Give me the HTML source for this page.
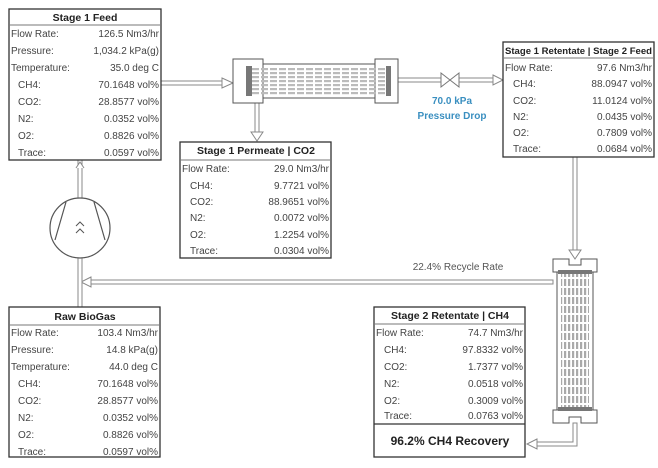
<!DOCTYPE html>
<html><head><meta charset="utf-8"><style>
html,body{margin:0;padding:0;background:#fff;}
svg{display:block;font-family:"Liberation Sans",sans-serif;}
.t{font-size:10px;fill:#444;}
.r{font-size:10px;fill:#444;text-anchor:end;}
.h{font-size:10.5px;font-weight:bold;fill:#222;text-anchor:middle;}
.box{fill:#fff;stroke:#333;stroke-width:1.3;}
.ln{stroke:#777;stroke-width:1;fill:none;}
.pipe{fill:#fff;stroke:#888;stroke-width:1;}
</style></head><body>
<svg width="658" height="468" viewBox="0 0 658 468">
<defs>
<pattern id="fib" width="9" height="4" patternUnits="userSpaceOnUse"><rect width="7" height="2.2" fill="#bbb"/></pattern>
<pattern id="fib2" width="4" height="9" patternUnits="userSpaceOnUse"><rect width="2.2" height="7" fill="#aaa"/></pattern>
</defs>

<!-- pipes -->
<rect class="pipe" x="161" y="81" width="62" height="4"/>
<path class="pipe" d="M222 78 L233 83 L222 88 Z"/>
<rect class="pipe" x="255" y="103" width="4" height="30"/>
<path class="pipe" d="M251 132 L257 141 L263 132 Z"/>
<rect class="pipe" x="398" y="78" width="43" height="4"/>
<rect class="pipe" x="458" y="78" width="36" height="4"/>
<path class="pipe" d="M493 75 L503 80 L493 85 Z"/>
<path d="M441 73 L459 87 L459 73 L441 87 Z" fill="#fff" stroke="#777"/>
<rect class="pipe" x="573" y="157" width="4" height="95"/>
<path class="pipe" d="M569 250 L575 259 L581 250 Z"/>
<rect class="pipe" x="90" y="280" width="463" height="4"/>
<path class="pipe" d="M91 277 L81 282 L91 287 Z"/>
<rect class="pipe" x="78" y="160" width="4" height="38"/>
<path class="pipe" d="M76 168 L80 162 L84 168" />
<rect class="pipe" x="78" y="258" width="4" height="50"/>
<path class="pipe" d="M573 423 L577 423 L577 446 L537 446 L537 442 L573 442 Z"/>
<path class="pipe" d="M537 439 L527 444 L537 449 Z"/>

<!-- membrane 1 -->
<path d="M233 59 H263 V64 H375 V59 H398 V103 H375 V98 H263 V103 H233 Z" fill="#fff" stroke="#555"/>
<line x1="263" y1="59" x2="263" y2="103" stroke="#555"/>
<line x1="375" y1="59" x2="375" y2="103" stroke="#555"/>
<rect x="246" y="66" width="6" height="30" fill="#777"/>
<rect x="386" y="66" width="5" height="30" fill="#777"/>
<rect x="252" y="67" width="134" height="28" fill="url(#fib)"/>

<!-- membrane 2 -->
<path d="M553 259 H569 V265 H581 V259 H597 V272 H593 V410 H597 V423 H581 V417 H569 V423 H553 V410 H557 V272 H553 Z" fill="#fff" stroke="#555"/>
<line x1="553" y1="272" x2="597" y2="272" stroke="#555"/>
<line x1="553" y1="410" x2="597" y2="410" stroke="#555"/>
<rect x="558" y="270" width="34" height="4" fill="#777"/>
<rect x="558" y="407" width="34" height="4" fill="#777"/>
<rect x="561" y="274" width="28" height="133" fill="url(#fib2)"/>

<!-- compressor -->
<circle cx="80" cy="228" r="30" fill="#fff" stroke="#555" stroke-width="1.2"/>
<path d="M66 202 L55 240 M94 202 L105 240" stroke="#555" stroke-width="1.2"/>
<path d="M76 226 L80 222 L84 226 M76 233 L80 229 L84 233" stroke="#555" fill="none"/>

<!-- Stage 1 Feed -->
<rect class="box" x="9" y="9" width="152" height="151"/>
<line class="ln" x1="9" y1="25" x2="161" y2="25"/>
<text class="h" x="85" y="21">Stage 1 Feed</text>
<g class="t"><text x="11" y="37">Flow Rate:</text><text x="11" y="54">Pressure:</text><text x="11" y="71">Temperature:</text><text x="18" y="88">CH4:</text><text x="18" y="105">CO2:</text><text x="18" y="122">N2:</text><text x="18" y="139">O2:</text><text x="18" y="156">Trace:</text></g>
<g class="r"><text x="159" y="37">126.5 Nm3/hr</text><text x="159" y="54">1,034.2 kPa(g)</text><text x="159" y="71">35.0 deg C</text><text x="159" y="88">70.1648 vol%</text><text x="159" y="105">28.8577 vol%</text><text x="159" y="122">0.0352 vol%</text><text x="159" y="139">0.8826 vol%</text><text x="159" y="156">0.0597 vol%</text></g>

<!-- Permeate -->
<rect class="box" x="180" y="142" width="151" height="116"/>
<line class="ln" x1="180" y1="160" x2="331" y2="160"/>
<text class="h" x="256" y="154">Stage 1 Permeate | CO2</text>
<g class="t"><text x="182" y="172">Flow Rate:</text><text x="190" y="189">CH4:</text><text x="190" y="205">CO2:</text><text x="190" y="221">N2:</text><text x="190" y="238">O2:</text><text x="190" y="254">Trace:</text></g>
<g class="r"><text x="329" y="172">29.0 Nm3/hr</text><text x="329" y="189">9.7721 vol%</text><text x="329" y="205">88.9651 vol%</text><text x="329" y="221">0.0072 vol%</text><text x="329" y="238">1.2254 vol%</text><text x="329" y="254">0.0304 vol%</text></g>

<!-- Retentate 1 -->
<rect class="box" x="503" y="42" width="151" height="115"/>
<line class="ln" x1="503" y1="58" x2="654" y2="58"/>
<text x="505" y="54" textLength="147" lengthAdjust="spacingAndGlyphs" style="font-size:9.5px;font-weight:bold;fill:#222">Stage 1 Retentate | Stage 2 Feed</text>
<g class="t"><text x="505" y="71">Flow Rate:</text><text x="513" y="87">CH4:</text><text x="513" y="104">CO2:</text><text x="513" y="120">N2:</text><text x="513" y="136">O2:</text><text x="513" y="152">Trace:</text></g>
<g class="r"><text x="652" y="71">97.6 Nm3/hr</text><text x="652" y="87">88.0947 vol%</text><text x="652" y="104">11.0124 vol%</text><text x="652" y="120">0.0435 vol%</text><text x="652" y="136">0.7809 vol%</text><text x="652" y="152">0.0684 vol%</text></g>

<text x="452" y="104" style="font-size:10px;font-weight:bold;fill:#3a8fc0;text-anchor:middle">70.0 kPa</text>
<text x="452" y="119" style="font-size:10px;font-weight:bold;fill:#3a8fc0;text-anchor:middle">Pressure Drop</text>
<text x="458" y="270" style="font-size:10px;fill:#555;text-anchor:middle">22.4% Recycle Rate</text>

<!-- Raw BioGas -->
<rect class="box" x="9" y="307" width="151" height="150"/>
<line class="ln" x1="9" y1="325" x2="160" y2="325"/>
<text class="h" x="85" y="320">Raw BioGas</text>
<g class="t"><text x="11" y="336">Flow Rate:</text><text x="11" y="353">Pressure:</text><text x="11" y="370">Temperature:</text><text x="18" y="387">CH4:</text><text x="18" y="404">CO2:</text><text x="18" y="421">N2:</text><text x="18" y="438">O2:</text><text x="18" y="455">Trace:</text></g>
<g class="r"><text x="158" y="336">103.4 Nm3/hr</text><text x="158" y="353">14.8 kPa(g)</text><text x="158" y="370">44.0 deg C</text><text x="158" y="387">70.1648 vol%</text><text x="158" y="404">28.8577 vol%</text><text x="158" y="421">0.0352 vol%</text><text x="158" y="438">0.8826 vol%</text><text x="158" y="455">0.0597 vol%</text></g>

<!-- Stage 2 Retentate -->
<rect class="box" x="374" y="307" width="151" height="150"/>
<line class="ln" x1="374" y1="324" x2="525" y2="324"/>
<line x1="374" y1="424" x2="525" y2="424" stroke="#333" stroke-width="1.2"/>
<text class="h" x="450" y="319">Stage 2 Retentate | CH4</text>
<g class="t"><text x="376" y="336">Flow Rate:</text><text x="384" y="353">CH4:</text><text x="384" y="370">CO2:</text><text x="384" y="387">N2:</text><text x="384" y="404">O2:</text><text x="384" y="419">Trace:</text></g>
<g class="r"><text x="523" y="336">74.7 Nm3/hr</text><text x="523" y="353">97.8332 vol%</text><text x="523" y="370">1.7377 vol%</text><text x="523" y="387">0.0518 vol%</text><text x="523" y="404">0.3009 vol%</text><text x="523" y="419">0.0763 vol%</text></g>
<text x="450" y="445" style="font-size:12px;font-weight:bold;fill:#222;text-anchor:middle">96.2% CH4 Recovery</text>
</svg>
</body></html>
